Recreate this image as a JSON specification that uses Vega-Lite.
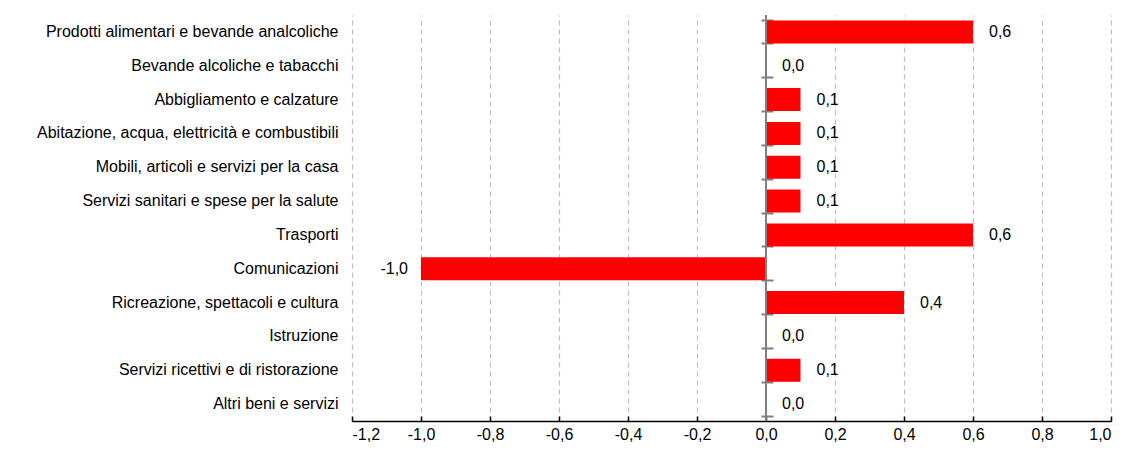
{
  "$schema": "https://vega.github.io/schema/vega-lite/v6.json",
  "width": 759,
  "height": 406,
  "autosize": {"type": "none"},
  "padding": {"left": 352, "top": 15, "right": 15, "bottom": 36},
  "config": {
    "view": {"stroke": null},
    "font": "Liberation Sans",
    "axis": {"labelFont": "Liberation Sans", "labelColor": "#000000"},
    "locale": {"number": {"decimal": ",", "thousands": ".", "grouping": [3], "currency": ["", " €"], "minus": "-"}}
  },
  "data": {
    "values": [
      {"cat": "Prodotti alimentari e bevande analcoliche", "v": 0.6},
      {"cat": "Bevande alcoliche e tabacchi", "v": 0.0},
      {"cat": "Abbigliamento e calzature", "v": 0.1},
      {"cat": "Abitazione, acqua, elettricità e combustibili", "v": 0.1},
      {"cat": "Mobili, articoli e servizi per la casa", "v": 0.1},
      {"cat": "Servizi sanitari e spese per la salute", "v": 0.1},
      {"cat": "Trasporti", "v": 0.6},
      {"cat": "Comunicazioni", "v": -1.0},
      {"cat": "Ricreazione, spettacoli e cultura", "v": 0.4},
      {"cat": "Istruzione", "v": 0.0},
      {"cat": "Servizi ricettivi e di ristorazione", "v": 0.1},
      {"cat": "Altri beni e servizi", "v": 0.0}
    ]
  },
  "resolve": {"axis": {"y": "independent"}},
  "layer": [
    {
      "mark": {"type": "bar", "color": "#ff0000"},
      "encoding": {
        "x": {"field": "v", "type": "quantitative", "title": null,
          "scale": {"domain": [-1.2, 1.0], "nice": false, "zero": false},
          "axis": {
            "values": [-1.2, -1.0, -0.8, -0.6, -0.4, -0.2, 0, 0.2, 0.4, 0.6, 0.8, 1.0],
            "format": ".1f",
            "labelFontSize": 16, "labelPadding": 10,
            "domainColor": "#000000", "domainWidth": 1.5,
            "tickColor": "#000000", "tickSize": -5, "tickWidth": 1.5,
            "grid": true, "gridColor": "#c0c0c0", "gridDash": [5, 4], "gridWidth": 1.2
          }
        },
        "y": {"field": "cat", "type": "nominal", "sort": null, "title": null,
          "scale": {"paddingInner": 0.32, "paddingOuter": 0.16},
          "axis": {"orient": "left", "domain": false, "ticks": false, "labelFontSize": 16, "labelPadding": 14, "labelLimit": 400}}
      }
    },
    {
      "mark": {"type": "rule", "color": "#808080", "strokeWidth": 2},
      "encoding": {"x": {"datum": 0}}
    },
    {
      "mark": {"type": "text", "text": "", "opacity": 0},
      "encoding": {
        "x": {"field": "v", "type": "quantitative"},
        "y": {"field": "cat", "type": "nominal", "sort": null, "title": null,
          "axis": {"orient": "left", "offset": -421, "labels": false, "domain": false, "tickBand": "extent",
            "tickColor": "#808080", "tickSize": 12, "tickWidth": 2}}
      }
    },
    {
      "mark": {"type": "text", "fontSize": 16, "font": "Liberation Sans", "baseline": "middle",
        "align": {"expr": "datum.v < 0 ? 'right' : 'left'"},
        "dx": {"expr": "datum.v < 0 ? -13 : 16"}},
      "encoding": {
        "x": {"field": "v", "type": "quantitative"},
        "text": {"field": "v", "type": "quantitative", "format": ".1f"},
        "y": {"field": "cat", "type": "nominal", "sort": null, "title": null, "axis": null}
      }
    }
  ]
}
